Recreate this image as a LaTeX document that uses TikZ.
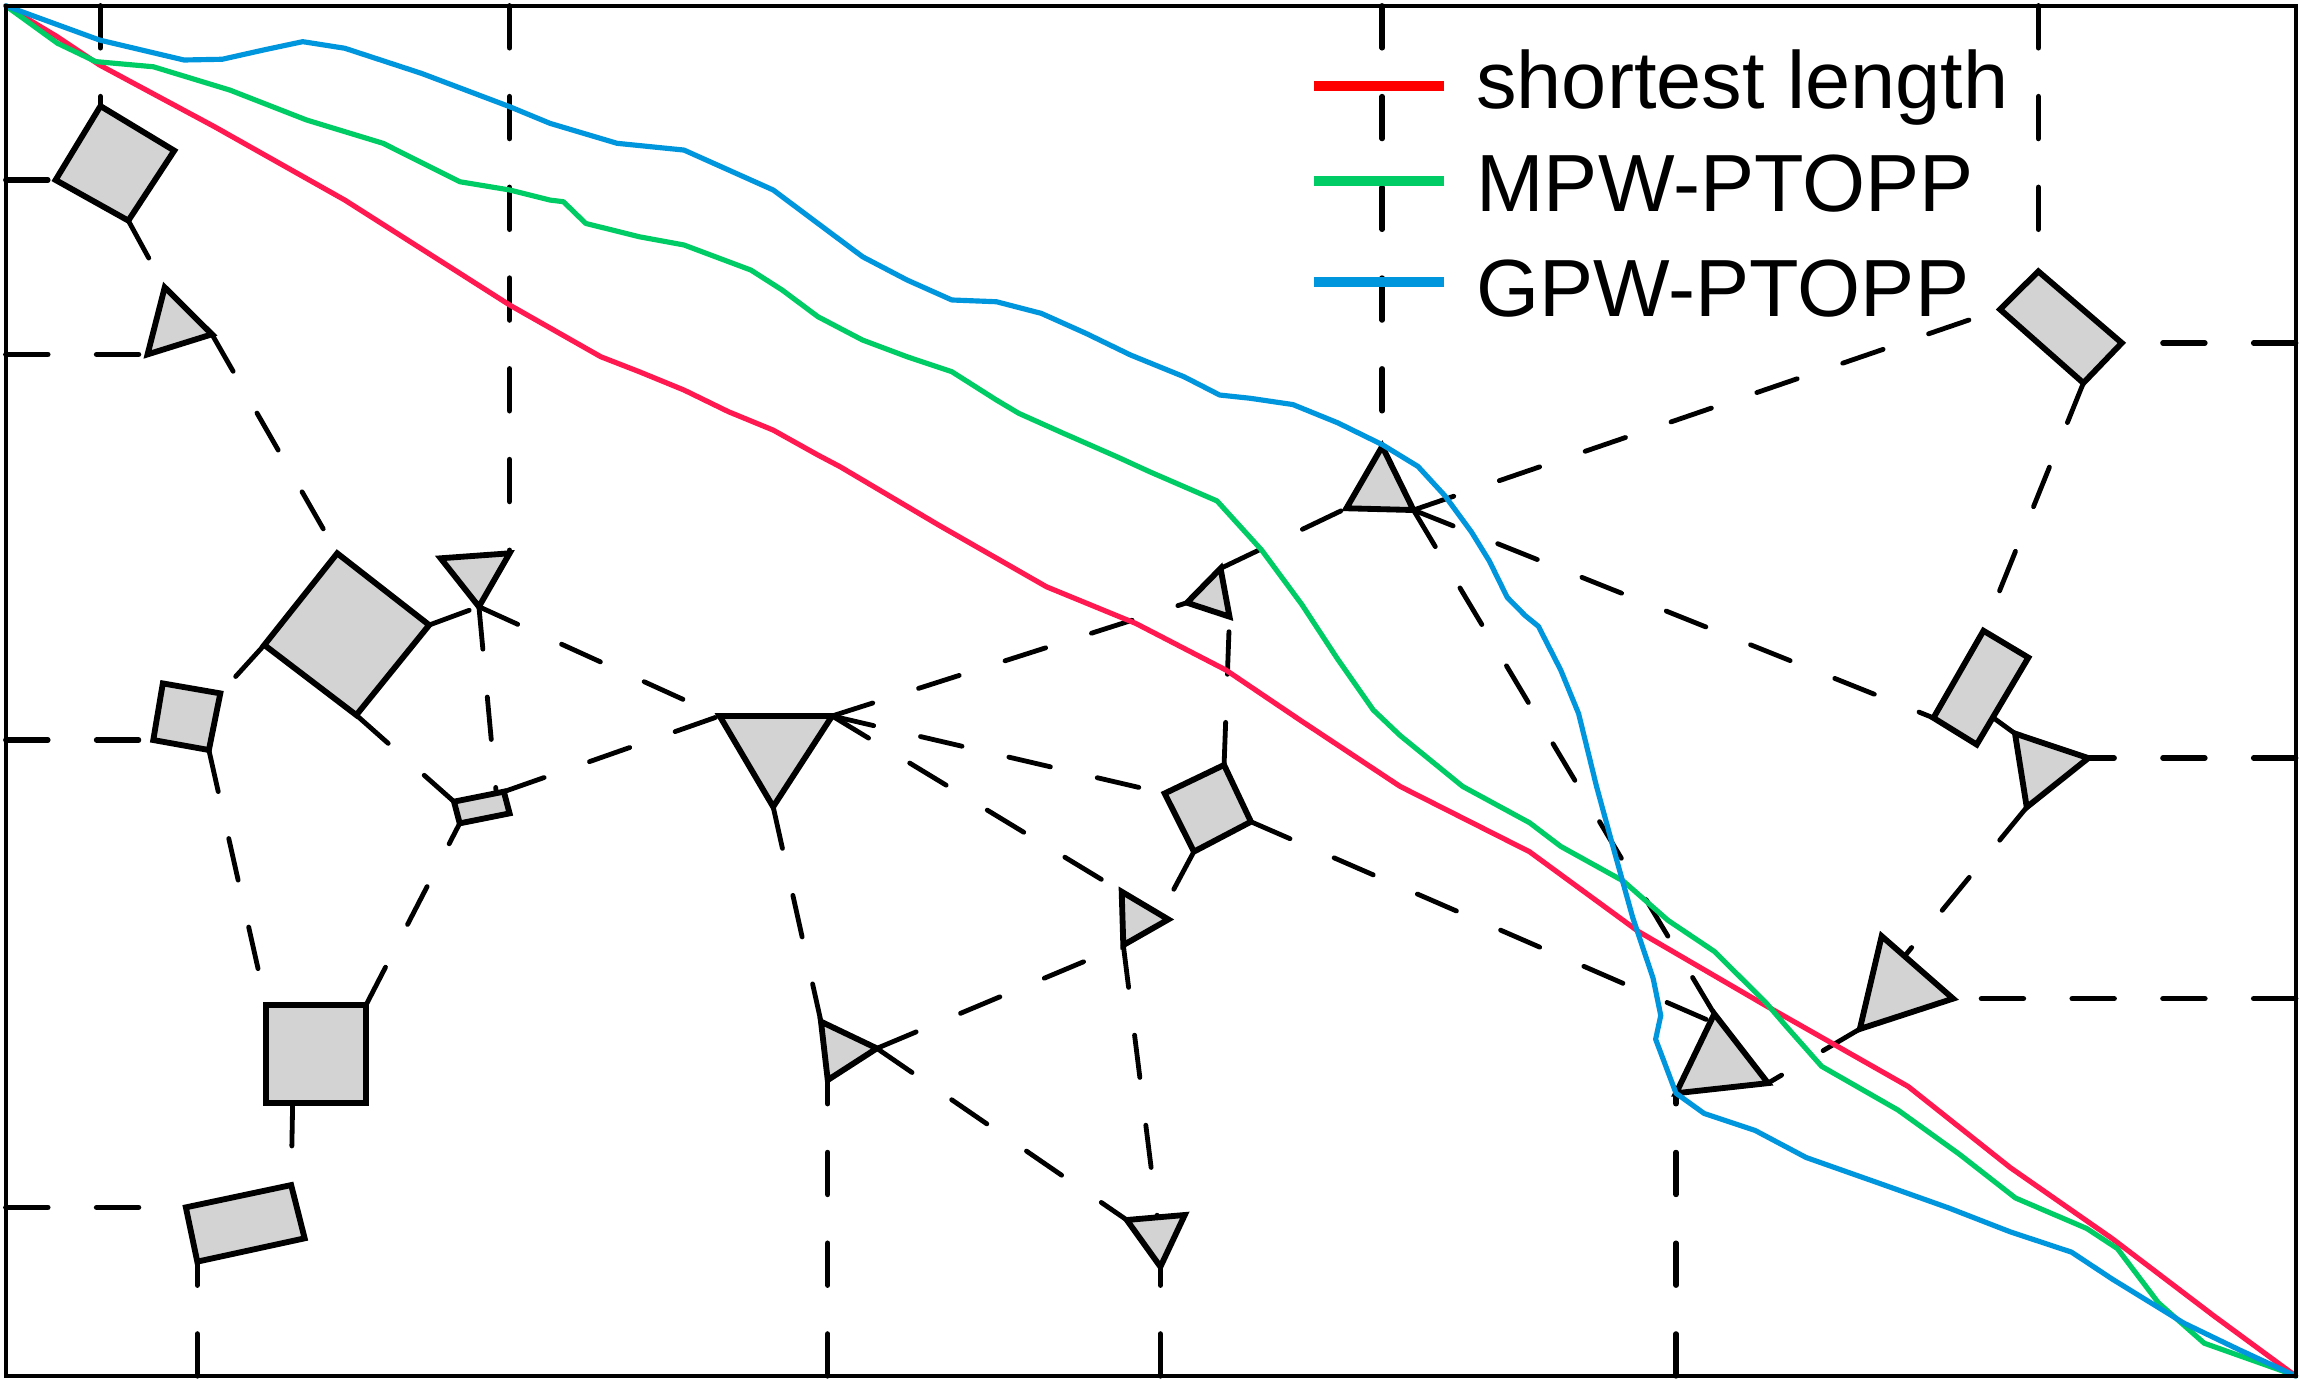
\documentclass[tikz,border=0pt]{standalone}
\usepackage{fontspec}
\setmainfont{Liberation Sans}
\definecolor{shapegray}{RGB}{211,211,211}
\definecolor{cred}{RGB}{255,25,80}
\definecolor{lred}{RGB}{255,0,0}
\definecolor{cgreen}{RGB}{0,204,102}
\definecolor{cblue}{RGB}{0,150,222}
\begin{document}
\begin{tikzpicture}[x=0.15mm,y=-0.15mm,
  obst/.style={draw=black, fill=shapegray, line width=1.7pt, line join=miter},
  linkline/.style={line width=1.4pt, dash pattern=on 12.4pt off 14.0pt, line cap=round},
  frameline/.style={line width=1.6pt, dash pattern=on 12.2pt off 14.2pt, line cap=round},
  route/.style={line width=1.5pt, line join=round, line cap=round},
  legline/.style={line width=2.8pt},
  legtext/.style={anchor=base west, inner sep=0pt, font=\fontsize{23.6}{28}\selectfont}]
\useasboundingbox (0,0) rectangle (1568,940);
\fill[white] (0,0) rectangle (1568,940);

% ---------- obstacle vertices ----------
\coordinate (s1a) at (68.5,72.3);   \coordinate (s1b) at (118.8,102.7);
\coordinate (s1c) at (87.5,150.4);  \coordinate (s1d) at (37.9,122.7);
\coordinate (t1a) at (112.3,195.9); \coordinate (t1b) at (144.5,227.9); \coordinate (t1c) at (100.6,241.6);
\coordinate (s2a) at (229.9,377.2); \coordinate (s2b) at (292.6,426.1);
\coordinate (s2c) at (242.9,487.5); \coordinate (s2d) at (180.2,439.7);
\coordinate (t3a) at (300.4,380.6); \coordinate (t3b) at (347.4,377.2); \coordinate (t3c) at (326.5,413.6);
\coordinate (s4a) at (111,465.9);   \coordinate (s4b) at (150.2,472.7);
\coordinate (s4c) at (142.4,511.3); \coordinate (s4d) at (104.5,504.5);
\coordinate (r4a) at (309.5,546.5); \coordinate (r4b) at (343.5,539.7);
\coordinate (r4c) at (347.4,554.5); \coordinate (r4d) at (313.4,561.3);
\coordinate (r4t) at (338.3,540.7);
\coordinate (s3a) at (181.5,685.2); \coordinate (s3b) at (249.5,685.2);
\coordinate (s3c) at (249.5,752.2); \coordinate (s3d) at (181.5,752.2);
\coordinate (s3m) at (199.5,752.2);
\coordinate (r13a) at (126.7,823.1); \coordinate (r13b) at (198.5,807.9);
\coordinate (r13c) at (207.7,844.2); \coordinate (r13d) at (134.5,860.1);
\coordinate (t5a) at (490.6,488.1); \coordinate (t5b) at (567.3,488.1); \coordinate (t5c) at (527.1,550);
\coordinate (t8a) at (832.1,387.5); \coordinate (t8b) at (809.2,410.9); \coordinate (t8c) at (838.2,420.4);
\coordinate (s6a) at (834.5,521.5); \coordinate (s6b) at (852.8,560.2);
\coordinate (s6c) at (813.9,580.6); \coordinate (s6d) at (794,540.9);
\coordinate (t7a) at (764.7,607.9); \coordinate (t7b) at (796.5,626.8); \coordinate (t7c) at (765.8,644.3);
\coordinate (t7e) at (791,623.5);
\coordinate (t10a) at (559.7,696.5); \coordinate (t10b) at (597.8,714.7); \coordinate (t10c) at (564.3,736.3);
\coordinate (t12a) at (768.2,831.7); \coordinate (t12b) at (807.7,828.3); \coordinate (t12c) at (791.1,863.6);
\coordinate (t12e) at (789,829.9);
\coordinate (t11a) at (942.3,304.3); \coordinate (t11b) at (917.9,346.5); \coordinate (t11c) at (963.6,347.7);
\coordinate (t9a) at (1168.7,691.2); \coordinate (t9b) at (1205.3,738.4); \coordinate (t9c) at (1142.6,745.3);
\coordinate (t9e) at (1165.5,696);
\coordinate (r14a) at (1389.6,185); \coordinate (r14b) at (1446.5,233.8);
\coordinate (r14c) at (1420.3,261.1); \coordinate (r14d) at (1363.5,210.9);
\coordinate (r15a) at (1352.2,430); \coordinate (r15b) at (1382.8,448.3);
\coordinate (r15c) at (1347.6,507.6); \coordinate (r15d) at (1318.1,489.4);
\coordinate (r15e) at (1359,489.4);
\coordinate (t16a) at (1373.7,500.1); \coordinate (t16b) at (1423.7,516.8); \coordinate (t16c) at (1381.7,550.3);
\coordinate (t17a) at (1282.8,638.2); \coordinate (t17b) at (1331.5,680.8); \coordinate (t17c) at (1267.9,701.5);
\coordinate (t17e) at (1299.2,650.9);

% ---------- frame anchors ----------
\coordinate (ft1) at (68.5,4);   \coordinate (ft2) at (347.4,4);
\coordinate (ft3) at (942.3,4);  \coordinate (ft4) at (1389.6,4);
\coordinate (fl1) at (4,122.7);  \coordinate (fl2) at (4,241.6);
\coordinate (fl3) at (4,504.5);  \coordinate (fl4) at (4,823.1);
\coordinate (fb1) at (134.5,938); \coordinate (fb2) at (564.3,938);
\coordinate (fb3) at (791.1,938); \coordinate (fb4) at (1142.6,938);
\coordinate (fr1) at (1565,233.8); \coordinate (fr2) at (1565,516.8);
\coordinate (fr3) at (1565,680.8);

% ---------- lines to the frame ----------
\draw[frameline] (ft1) -- (s1a);
\draw[frameline] (ft2) -- (t3b);
\draw[frameline] (ft3) -- (t11a);
\draw[frameline] (ft4) -- (r14a);
\draw[frameline] (fl1) -- (s1d);
\draw[frameline] (fl2) -- (t1c);
\draw[frameline] (fl3) -- (s4d);
\draw[frameline] (fl4) -- (r13a);
\draw[frameline] (fb1) -- (r13d);
\draw[frameline] (fb2) -- (t10c);
\draw[frameline] (fb3) -- (t12c);
\draw[frameline] (fb4) -- (t9c);
\draw[frameline] (fr1) -- (r14b);
\draw[frameline] (fr2) -- (t16b);
\draw[frameline] (fr3) -- (t17b);

% ---------- lines between obstacles ----------
\draw[linkline] (s1c) -- (t1a);
\draw[linkline] (t1b) -- (s2a);
\draw[linkline] (s2d) -- (s4b);
\draw[linkline] (s2b) -- (t3c);
\draw[linkline] (s2c) -- (r4a);
\draw[linkline] (s4c) -- (s3a);
\draw[linkline] (s3b) -- (r4d);
\draw[linkline] (s3m) -- (r13b);
\draw[linkline] (t3c) -- (r4t);
\draw[linkline] (t3c) -- (t5a);
\draw[linkline] (r4b) -- (t5a);
\draw[linkline] (t5b) -- (t8b);
\draw[linkline] (t5b) -- (s6d);
\draw[linkline] (t5b) -- (t7a);
\draw[linkline] (t5c) -- (t10a);
\draw[linkline] (t10b) -- (t7c);
\draw[linkline] (t10b) -- (t12a);
\draw[linkline] (t7c) -- (t12e);
\draw[linkline] (s6a) -- (t8c);
\draw[linkline] (s6b) -- (t9e);
\draw[linkline] (s6c) -- (t7e);
\draw[linkline] (t8a) -- (t11b);
\draw[linkline] (t11c) -- (r14d);
\draw[linkline] (t11c) -- (r15d);
\draw[linkline] (t11c) -- (t9a);
\draw[linkline] (r14c) -- (r15a);
\draw[linkline] (r15e) -- (t16a);
\draw[linkline] (t16c) -- (t17e);
\draw[linkline] (t17c) -- (t9b);

% ---------- obstacles ----------
\draw[obst] (s1a) -- (s1b) -- (s1c) -- (s1d) -- cycle;
\draw[obst] (t1a) -- (t1b) -- (t1c) -- cycle;
\draw[obst] (s2a) -- (s2b) -- (s2c) -- (s2d) -- cycle;
\draw[obst] (t3a) -- (t3b) -- (t3c) -- cycle;
\draw[obst] (s4a) -- (s4b) -- (s4c) -- (s4d) -- cycle;
\draw[obst] (r4a) -- (r4b) -- (r4c) -- (r4d) -- cycle;
\draw[obst] (s3a) -- (s3b) -- (s3c) -- (s3d) -- cycle;
\draw[obst] (r13a) -- (r13b) -- (r13c) -- (r13d) -- cycle;
\draw[obst] (t5a) -- (t5b) -- (t5c) -- cycle;
\draw[obst] (t8a) -- (t8b) -- (t8c) -- cycle;
\draw[obst] (s6a) -- (s6b) -- (s6c) -- (s6d) -- cycle;
\draw[obst] (t7a) -- (t7b) -- (t7c) -- cycle;
\draw[obst] (t10a) -- (t10b) -- (t10c) -- cycle;
\draw[obst] (t12a) -- (t12b) -- (t12c) -- cycle;
\draw[obst] (t11a) -- (t11b) -- (t11c) -- cycle;
\draw[obst] (t9a) -- (t9b) -- (t9c) -- cycle;
\draw[obst] (r14a) -- (r14b) -- (r14c) -- (r14d) -- cycle;
\draw[obst] (r15a) -- (r15b) -- (r15c) -- (r15d) -- cycle;
\draw[obst] (t16a) -- (t16b) -- (t16c) -- cycle;
\draw[obst] (t17a) -- (t17b) -- (t17c) -- cycle;

% ---------- paths ----------
\draw[route, cred] plot coordinates {(4,4) (39,25) (67.9,44.3) (146.3,86.4) (235.1,136.4) (347.4,207.9) (409.6,243.2) (435.8,253.4) (466.3,265.9) (496.7,280.7) (527.1,293.2) (557.6,310.2) (572.8,318.2) (640,358) (713.4,400) (774.3,425) (835.8,456.8) (886.3,490.9) (954.5,536.1) (1042.8,580.7) (1106.6,627.4) (1116.6,634.8) (1203.5,685.4) (1300.9,740.7) (1370.5,796) (1440,844.4) (1509.6,897.3) (1565,938)};
\draw[route, cgreen] plot coordinates {(4,4) (39.2,29.5) (65.3,42) (104.5,45.5) (156.7,61.4) (209,81.8) (261.2,97.7) (313.5,123.9) (347.4,129.5) (375,136.4) (384.1,137.5) (399.3,152.3) (435.8,161.4) (466.3,167) (511.9,184.1) (533.2,197.7) (557.6,215.9) (588,231.8) (618.4,243.2) (648.9,253.4) (679.3,272.7) (694.6,281.8) (725,295.4) (761.5,311.4) (784,321.7) (829.7,341.5) (860.1,375) (887.5,412.1) (911.9,449.3) (936.2,484) (954.5,501.4) (997.1,536.1) (1042.8,560.9) (1064,577) (1106.6,600.6) (1137.1,627.4) (1168.7,648.6) (1203.5,683.1) (1217.4,699.3) (1241.8,726.9) (1294,756.8) (1335.7,786.8) (1374,816.7) (1422.6,837.5) (1443.5,851.2) (1471.4,888.1) (1502.7,915.7) (1558.3,935.4) (1565,938)};
\draw[route, cblue] plot coordinates {(4,4) (67.9,27.3) (125.4,40.9) (151.5,40.4) (180,34) (206.4,28.4) (235.1,32.9) (287.3,50) (347.4,72.7) (375,84.1) (420.7,97.7) (466.3,102.3) (496.7,115.9) (527.1,129.5) (557.6,152.3) (588,175) (618.4,190.9) (648.9,204.5) (679.3,205.7) (709.8,213.6) (740.2,227.2) (770.7,242) (807.1,256.8) (831.5,269.3) (852.2,271.5) (881.4,275.8) (911.9,288.2) (942.3,303.1) (966.7,318) (984.9,337.8) (1003.1,362.6) (1015.3,382.4) (1027.5,407.2) (1039.7,419.6) (1048.8,427) (1064,456.8) (1076.2,486.5) (1088.4,536.1) (1100.6,580.7) (1113.1,625.6) (1127,667) (1132.2,692.3) (1128.7,708.5) (1142.6,745.3) (1161.8,759.1) (1196.6,770.7) (1231.3,789.1) (1283.5,807.5) (1328.8,823.6) (1370.5,839.8) (1412.2,853.6) (1440,872) (1488.8,902) (1527,920.4) (1565,938)};

% ---------- legend ----------
\draw[legline, lred]   (896,58.6)  -- (984.6,58.6);
\draw[legline, cgreen] (896,123.4) -- (984.6,123.4);
\draw[legline, cblue]  (896,192.3) -- (984.6,192.3);
\node[legtext] (lg1) at (1006,73.9)  {shortest length};
\node[legtext] (lg2) at (1006,144.3) {MPW-PTOPP};
\node[legtext] (lg3) at (1006,215.9) {GPW-PTOPP};

% ---------- frame ----------
\draw[line width=1.2pt] (4,4) rectangle (1565,938);
\end{tikzpicture}
\end{document}
